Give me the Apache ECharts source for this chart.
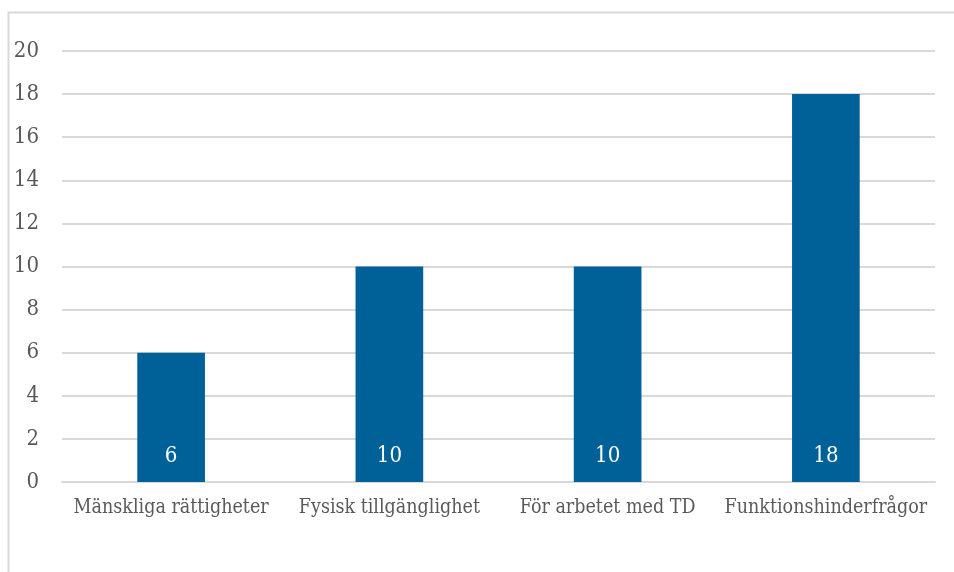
<!DOCTYPE html>
<html>
<head>
<meta charset="utf-8">
<script src="https://cdn.jsdelivr.net/npm/echarts@6/dist/echarts.min.js"></script>
<style>
  html, body { margin: 0; padding: 0; background: #fff; }
  #main { width: 954px; height: 572px; }
</style>
</head>
<body>
<div id="main"></div>
<script>
var categories = ['Mänskliga rättigheter', 'Fysisk tillgänglighet', 'För arbetet med TD', 'Funktionshinderfrågor'];
var values = [6, 10, 10, 18];

var font = '"DejaVu Serif Condensed", "DejaVu Serif", serif';
var textColor = '#595959';
var gridColor = '#d9d9d9';

var chart = echarts.init(document.getElementById('main'));

var option = {
    animation: false,
    backgroundColor: '#fff',
    textStyle: { fontFamily: font },
    graphic: [{
        type: 'rect',
        shape: { x: 8.5, y: 12.5, width: 980, height: 600 },
        style: { fill: 'none', stroke: gridColor, lineWidth: 2 },
        silent: true
    }],
    grid: { left: 62, right: 19, top: 51, bottom: 90 },
    xAxis: {
        type: 'category',
        data: categories,
        axisLine: { show: true, lineStyle: { color: gridColor, width: 2 } },
        axisTick: { show: false },
        axisLabel: { color: textColor, fontSize: 19.5, fontFamily: font, margin: 16, interval: 0 }
    },
    yAxis: {
        type: 'value',
        min: 0,
        max: 20,
        interval: 2,
        axisLine: { show: false },
        axisTick: { show: false },
        splitLine: { lineStyle: { color: gridColor, width: 2 } },
        axisLabel: { color: textColor, fontSize: 22, fontFamily: font, margin: 23 }
    },
    series: [{
        type: 'bar',
        data: values,
        barWidth: '31%',
        itemStyle: { color: '#006199' },
        label: {
            show: true,
            position: 'insideBottom',
            distance: 15,
            color: '#fff',
            fontSize: 22,
            fontFamily: font
        }
    }]
};

chart.setOption(option);
</script>
</body>
</html>
